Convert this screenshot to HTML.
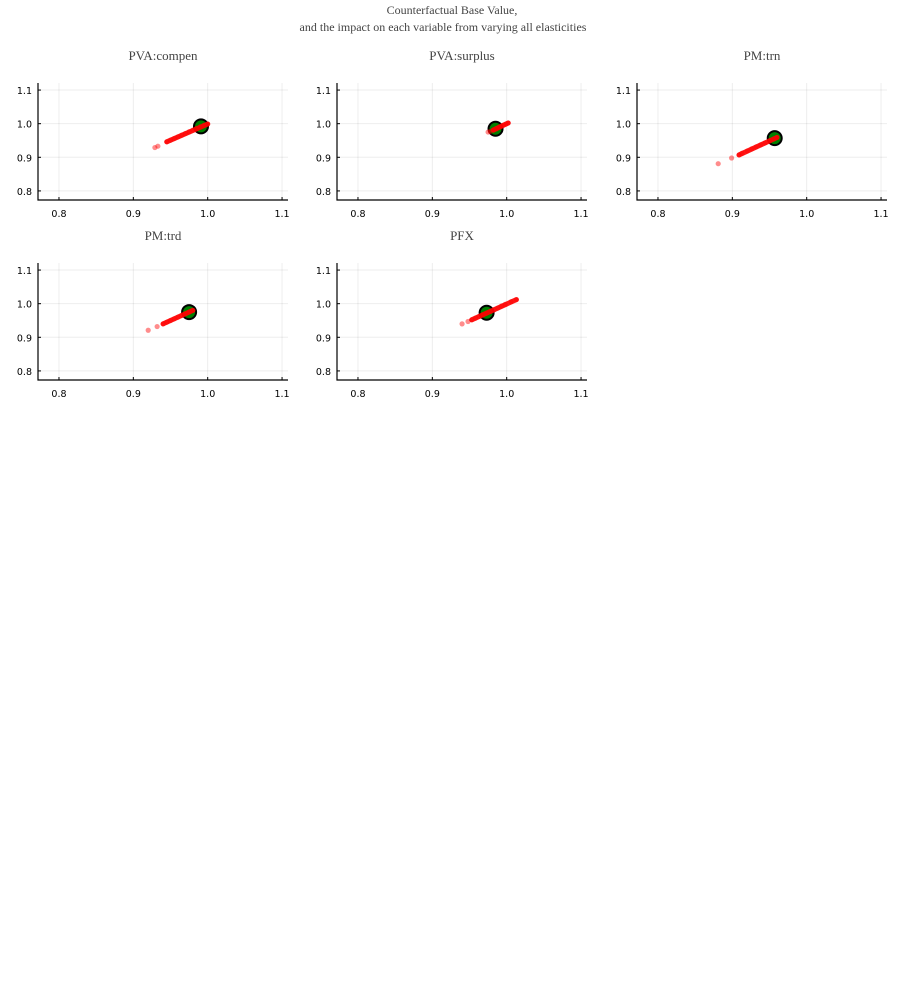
<!DOCTYPE html>
<html><head><meta charset="utf-8"><style>
body{margin:0;background:#fff;width:899px;height:999px;overflow:hidden}
svg{display:block}
.t{font-family:"Liberation Serif",serif;fill:#444}
.tk{font-family:"DejaVu Sans","Liberation Sans",sans-serif;font-size:9.5px;fill:#000}
</style></head><body>
<svg id="chart" width="899" height="999">
<text class="t" x="452" y="14" font-size="12" text-anchor="middle">Counterfactual Base Value,</text>
<text class="t" x="443" y="31" font-size="12" text-anchor="middle">and the impact on each variable from varying all elasticities</text>
</svg>
<script>
const titles=["PVA:compen","PVA:surplus","PM:trn","PM:trd","PFX"];
const baseX=[0.991,0.985,0.957,0.975,0.973];
const baseY=[0.992,0.985,0.957,0.975,0.973];
const redX=[
[0.929,0.933,0.945,0.950,0.955,0.960,0.965,0.970,0.975,0.980,0.985,0.990,0.995,1.000],
[0.975,0.978,0.982,0.986,0.990,0.993,0.996,0.999,1.002],
[0.881,0.899,0.909,0.913,0.920,0.926,0.932,0.938,0.944,0.950,0.956,0.960],
[0.920,0.932,0.940,0.945,0.950,0.955,0.960,0.965,0.970,0.975,0.980],
[0.940,0.948,0.953,0.958,0.963,0.968,0.973,0.978,0.983,0.988,0.993,0.998,1.006,1.013]];
const redY=[
[0.929,0.933,0.946,0.951,0.956,0.961,0.966,0.971,0.976,0.981,0.986,0.991,0.995,0.999],
[0.975,0.977,0.981,0.985,0.990,0.993,0.996,0.999,1.002],
[0.881,0.898,0.907,0.912,0.919,0.925,0.931,0.937,0.943,0.949,0.955,0.959],
[0.921,0.932,0.940,0.945,0.950,0.955,0.960,0.965,0.970,0.975,0.980],
[0.940,0.947,0.952,0.957,0.962,0.967,0.972,0.977,0.982,0.987,0.993,0.998,1.006,1.012]];
const ticks=[0.8,0.9,1.0,1.1];
const tickLabels=["0.8","0.9","1.0","1.1"];
const NS="http://www.w3.org/2000/svg";
const svg=document.getElementById('chart');
const offX=[38,337,637,38,337], offY=[83,83,83,263,263];
const W=250,H=117, xmin=0.7718,xmax=1.108,ymin=0.773,ymax=1.121;
function mk(t,a,p){const e=document.createElementNS(NS,t);for(const k in a)e.setAttribute(k,a[k]);(p||svg).appendChild(e);return e;}
titles.forEach((ti,i)=>{
  const ox=offX[i],oy=offY[i];
  const sx=v=>ox+(v-xmin)/(xmax-xmin)*W;
  const sy=v=>oy+H-(v-ymin)/(ymax-ymin)*H;
  const g=mk('g',{});
  
  
  const tt=mk('text',{x:ox+W/2,y:oy-23,'font-size':13,'text-anchor':'middle',class:'t'},g);
  tt.textContent=ti;
  
  
  ticks.forEach((v,k)=>{
    const gx=mk('line',{x1:sx(v),x2:sx(v),y1:oy,y2:oy+H,stroke:'#000','stroke-opacity':0.07},g);
    
    
    const gy=mk('line',{x1:ox,x2:ox+W,y1:sy(v),y2:sy(v),stroke:'#000','stroke-opacity':0.07},g);
    
    
    mk('line',{x1:sx(v),x2:sx(v),y1:oy+H,y2:oy+H-3,stroke:'#000'},g);
    mk('line',{x1:ox,x2:ox+3,y1:sy(v),y2:sy(v),stroke:'#000'},g);
    const xl=mk('text',{x:sx(v),y:oy+H+17,'text-anchor':'middle',class:'tk'},g);
    xl.textContent=tickLabels[k];
    
    
    const yl=mk('text',{x:ox-6,y:sy(v)+4,'text-anchor':'end',class:'tk'},g);
    yl.textContent=tickLabels[k];
    
    
  });
  const ax=mk('path',{d:`M${ox},${oy} V${oy+H} H${ox+W}`,fill:'none',stroke:'#000','stroke-width':1.2},g);
  
  
  const b=mk('circle',{cx:sx(baseX[i]),cy:sy(baseY[i]),r:7,fill:'#008000',stroke:'#000','stroke-width':2},g);
  
  
  redX[i].forEach((x,k)=>{
    const c=mk('circle',{cx:sx(x),cy:sy(redY[i][k]),r:2.6,fill:'#ff0000','fill-opacity':0.45},g);
    
    
  });
  const n=redX[i].length;
  const ln=mk('line',{x1:sx(redX[i][Math.min(2,n-1)]),y1:sy(redY[i][Math.min(2,n-1)]),x2:sx(redX[i][n-1]),y2:sy(redY[i][n-1]),stroke:'#ff0000','stroke-width':5,'stroke-linecap':'round','stroke-opacity':0.9},g);
  
  
});
</script>
</body></html>
